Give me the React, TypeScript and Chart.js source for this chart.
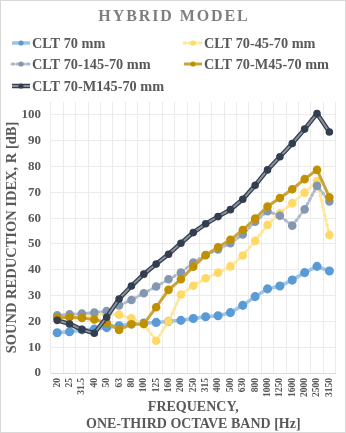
import React, { useEffect, useRef } from "react";
import { Chart, registerables } from "chart.js";

Chart.register(...registerables);

const categories = ["20", "25", "31.5", "40", "50", "63", "80", "100", "125", "160", "200", "250", "315", "400", "500", "630", "800", "1000", "1250", "1600", "2000", "2500", "3150"];

const clt70 = [15.6, 16.0, 16.7, 17.0, 17.6, 18.3, 19.0, 19.4, 19.6, 20.0, 20.4, 21.1, 21.8, 22.2, 23.4, 26.2, 29.6, 32.6, 33.7, 36.0, 38.9, 41.3, 39.5];
const clt70_45_70 = [21.5, 21.8, 22.0, 22.3, 22.8, 22.6, 21.2, 18.9, 12.5, 20.0, 30.4, 33.8, 36.7, 38.9, 41.3, 45.5, 51.2, 57.4, 61.9, 65.8, 69.9, 74.4, 53.5];
const clt70_145_70 = [22.4, 22.7, 23.0, 23.4, 24.0, 26.2, 28.3, 30.9, 33.5, 36.3, 38.9, 42.8, 45.7, 47.9, 50.3, 53.7, 58.6, 62.7, 60.9, 57.1, 63.4, 72.5, 66.5];
const clt70_M45_70 = [21.4, 21.6, 21.3, 20.7, 19.5, 16.7, 18.9, 19.0, 25.5, 32.2, 36.3, 41.2, 45.6, 48.7, 51.6, 55.4, 59.8, 64.5, 67.8, 71.2, 75.1, 78.7, 68.1];
const clt70_M145_70 = [20.4, 19.0, 16.8, 15.4, 21.6, 28.7, 33.7, 38.3, 42.2, 46.0, 50.3, 54.4, 57.8, 60.6, 63.3, 67.3, 72.7, 78.7, 83.8, 88.9, 94.5, 100.5, 93.4];

const yTicks = [0, 10, 20, 30, 40, 50, 60, 70, 80, 90, 100];

const seriesLabels = ["CLT 70 mm", "CLT 70-45-70 mm", "CLT 70-145-70 mm", "CLT 70-M45-70 mm", "CLT 70-M145-70 mm"];

const FONT = '"Liberation Serif", "Times New Roman", serif';
const TEXT = "#595959";

type LegendSpec = {
  label: string;
  line: string;
  width: number;
  dash: number[];
  point: string;
  outer?: string;
};

const legendSpecs: LegendSpec[] = [
  { label: seriesLabels[0], line: "#9dc3e6", width: 3.5, dash: [], point: "#5b9bd5" },
  { label: seriesLabels[1], line: "#ffe699", width: 3, dash: [2, 3], point: "#ffd966" },
  { label: seriesLabels[2], line: "#adb9ca", width: 3, dash: [2, 3], point: "#8497b0" },
  { label: seriesLabels[3], line: "#c9a43a", width: 3, dash: [], point: "#bf9000" },
  { label: seriesLabels[4], line: "#8a8f99", width: 2, dash: [], point: "#333f50", outer: "#333f50" },
];

const legendPlugin = {
  id: "customTitleLegend",
  beforeDraw(chart: any) {
    const ctx = chart.ctx;
    ctx.save();
    ctx.fillStyle = "#ffffff";
    ctx.fillRect(0, 0, chart.width, chart.height);
    ctx.restore();
  },
  afterDraw(chart: any) {
    const ctx = chart.ctx;
    ctx.save();
    ctx.strokeStyle = "#d9d9d9";
    ctx.lineWidth = 1;
    ctx.strokeRect(0.5, 0.5, chart.width - 1, chart.height - 1);
    ctx.font = `bold 16px ${FONT}`;
    ctx.fillStyle = "#7f7f7f";
    (ctx as any).letterSpacing = "1.9px";
    ctx.textAlign = "center";
    ctx.textBaseline = "middle";
    ctx.fillText("HYBRID MODEL", chart.width / 2 + 1, 17);
    (ctx as any).letterSpacing = "0px";
    const cols = [12, 184];
    const rows = [43, 64, 86];
    legendSpecs.forEach((s, i) => {
      const x = cols[i % 2];
      const y = rows[Math.floor(i / 2)];
      ctx.lineCap = s.dash.length ? "round" : "butt";
      if (s.outer) {
        ctx.strokeStyle = s.outer;
        ctx.lineWidth = 4.5;
        ctx.setLineDash([]);
        ctx.beginPath();
        ctx.moveTo(x, y);
        ctx.lineTo(x + 18, y);
        ctx.stroke();
      }
      ctx.strokeStyle = s.line;
      ctx.lineWidth = s.width;
      ctx.setLineDash(s.dash);
      ctx.beginPath();
      ctx.moveTo(x, y);
      ctx.lineTo(x + 18, y);
      ctx.stroke();
      ctx.setLineDash([]);
      ctx.fillStyle = s.point;
      ctx.beginPath();
      ctx.arc(x + 9, y, 2.6, 0, Math.PI * 2);
      ctx.fill();
      ctx.font = `bold 14.3px ${FONT}`;
      ctx.fillStyle = TEXT;
      ctx.textAlign = "left";
      ctx.textBaseline = "middle";
      ctx.fillText(s.label, x + 20, y + 1);
    });
    ctx.restore();
  },
};

export default function App() {
  const ref = useRef<HTMLCanvasElement | null>(null);

  useEffect(() => {
    if (!ref.current) return;
    const chart = new Chart(ref.current, {
      type: "line",
      data: {
        labels: categories,
        datasets: [
          {
            label: seriesLabels[0],
            data: clt70,
            borderColor: "#9dc3e6",
            borderWidth: 3.5,
            pointBackgroundColor: "#5b9bd5",
            pointBorderColor: "#5b9bd5",
            pointRadius: 2.8,
            order: 5,
          },
          {
            label: seriesLabels[1],
            data: clt70_45_70,
            borderColor: "#ffe699",
            borderWidth: 3,
            borderDash: [2, 3],
            borderCapStyle: "round",
            pointBackgroundColor: "#ffd966",
            pointBorderColor: "#ffd966",
            pointRadius: 2.8,
            order: 4,
          },
          {
            label: seriesLabels[2],
            data: clt70_145_70,
            borderColor: "#adb9ca",
            borderWidth: 3,
            borderDash: [2, 3],
            borderCapStyle: "round",
            pointBackgroundColor: "#8497b0",
            pointBorderColor: "#8497b0",
            pointRadius: 2.8,
            order: 3,
          },
          {
            label: seriesLabels[3],
            data: clt70_M45_70,
            borderColor: "#c9a43a",
            borderWidth: 3,
            pointBackgroundColor: "#bf9000",
            pointBorderColor: "#bf9000",
            pointRadius: 2.8,
            order: 2,
          },
          {
            label: seriesLabels[4] + " outline",
            data: clt70_M145_70,
            borderColor: "#333f50",
            borderWidth: 4.5,
            pointRadius: 0,
            order: 1,
          },
          {
            label: seriesLabels[4],
            data: clt70_M145_70,
            borderColor: "#8a8f99",
            borderWidth: 2,
            pointBackgroundColor: "#333f50",
            pointBorderColor: "#333f50",
            pointRadius: 2.8,
            order: 0,
          },
        ],
      },
      options: {
        animation: false,
        responsive: true,
        maintainAspectRatio: false,
        layout: { padding: { top: 102, right: 10, bottom: 0, left: 4 } },
        plugins: {
          legend: { display: false },
          title: { display: false },
          tooltip: { enabled: false },
        },
        elements: { line: { tension: 0 } },
        scales: {
          x: {
            offset: true,
            afterFit: (axis: any) => {
              axis.height = 60;
            },
            grid: { offset: true, color: "#ebebeb", drawTicks: false },
            border: { color: "#d9d9d9" },
            ticks: {
              autoSkip: false,
              minRotation: 90,
              maxRotation: 90,
              padding: 5,
              color: TEXT,
              font: { family: FONT, size: 9.5, weight: "bold" },
            },
            title: {
              display: true,
              text: ["FREQUENCY,", "ONE-THIRD OCTAVE BAND [Hz]"],
              color: TEXT,
              font: { family: FONT, size: 14, weight: "bold", lineHeight: 1.2 },
              padding: { top: 0, bottom: 0 },
            },
          },
          y: {
            min: 0,
            max: 105,
            afterFit: (axis: any) => {
              axis.width = 47;
            },
            afterBuildTicks: (axis: any) => {
              axis.ticks = yTicks.map((v) => ({ value: v }));
            },
            grid: { color: "#ebebeb", drawTicks: false },
            border: { display: false },
            ticks: {
              padding: 10,
              color: TEXT,
              font: { family: FONT, size: 13, weight: "bold" },
            },
            title: {
              display: true,
              text: "SOUND REDUCTION IDEX, R [dB]",
              color: TEXT,
              font: { family: FONT, size: 14.5, weight: "bold" },
              padding: { top: 0, bottom: 0 },
            },
          },
        },
      },
      plugins: [legendPlugin],
    });
    return () => chart.destroy();
  }, []);

  return (
    <div style={{ position: "absolute", left: 0, top: 0, width: 346, height: 433 }}>
      <canvas ref={ref} />
    </div>
  );
}
